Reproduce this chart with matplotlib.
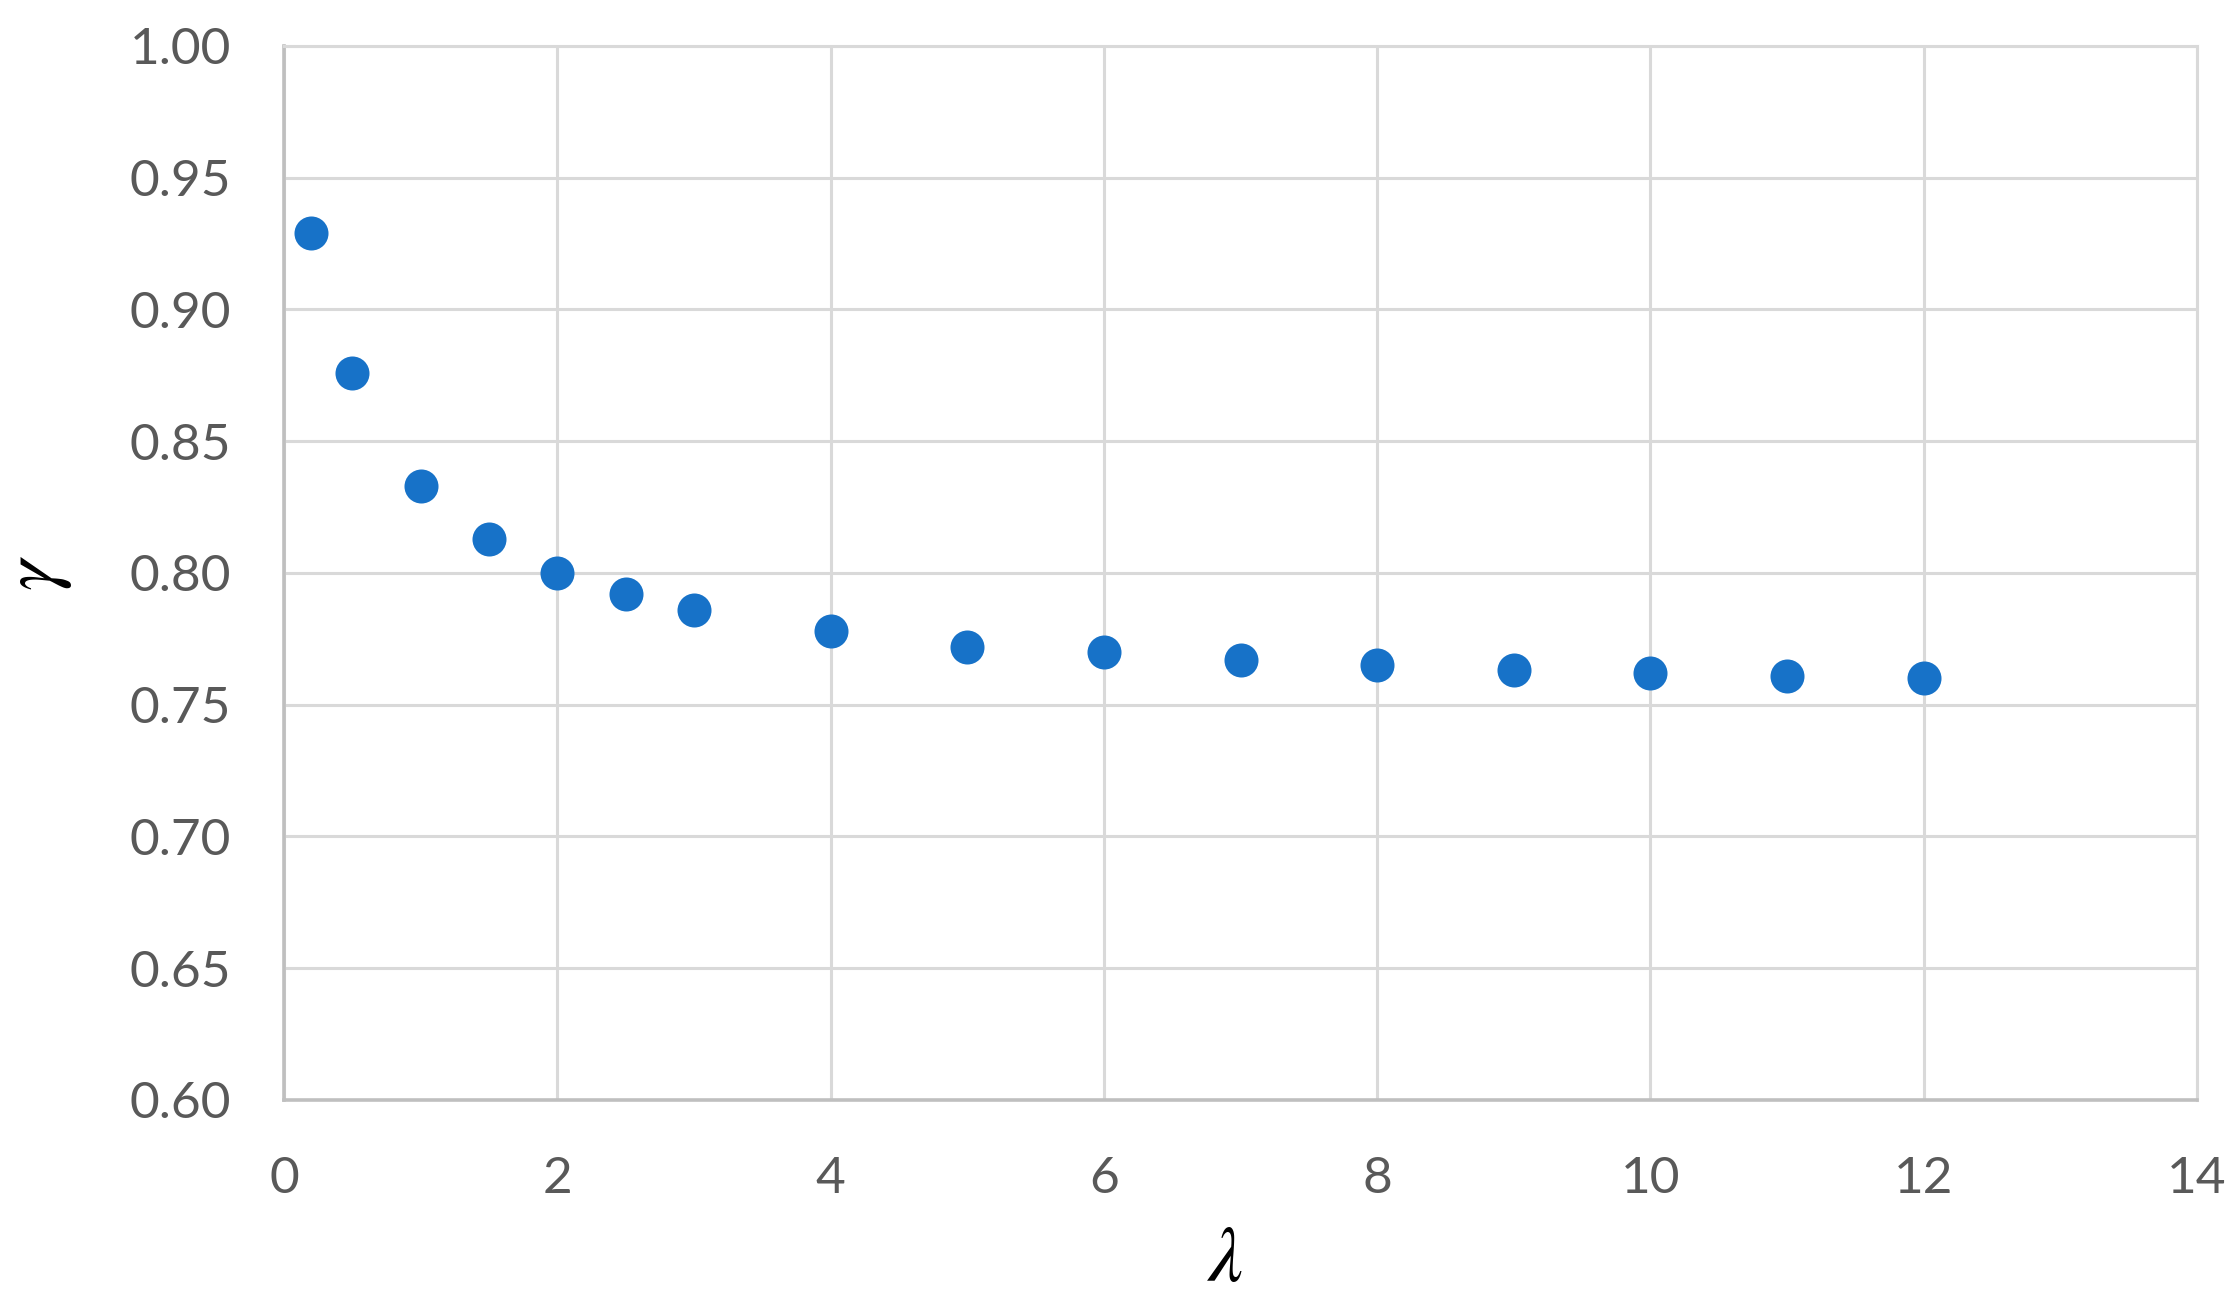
import matplotlib
matplotlib.use("Agg")
import matplotlib.pyplot as plt

# data
lam = [0.2, 0.5, 1.0, 1.5, 2.0, 2.5, 3.0, 4, 5, 6, 7, 8, 9, 10, 11, 12]
gamma = [0.929, 0.876, 0.833, 0.813, 0.800, 0.792, 0.786, 0.778,
         0.772, 0.770, 0.767, 0.765, 0.763, 0.762, 0.761, 0.760]
xticks = [0, 2, 4, 6, 8, 10, 12, 14]
yticks = [0.60, 0.65, 0.70, 0.75, 0.80, 0.85, 0.90, 0.95, 1.00]

plt.rcParams['font.family'] = ['Lato', 'DejaVu Sans']
plt.rcParams['mathtext.fontset'] = 'stix'

fig = plt.figure(figsize=(22.4, 12.99), dpi=100)
ax = fig.add_axes([0.1268, 0.1532, 0.8540, 0.8114])

ax.scatter(lam, gamma, s=600, color='#1772C8', zorder=3, linewidths=0)

ax.set_xlim(0, 14)
ax.set_ylim(0.60, 1.00)
ax.set_xticks(xticks)
ax.set_yticks(yticks)
ax.set_xticklabels([str(v) for v in xticks])
ax.set_yticklabels(['%.2f' % v for v in yticks])

# grid and frame
ax.grid(True, color='#D9D9D9', linewidth=2.2, zorder=0)
ax.set_axisbelow(True)
for side in ['top', 'right']:
    ax.spines[side].set_color('#D9D9D9')
    ax.spines[side].set_linewidth(2.2)
for side in ['left', 'bottom']:
    ax.spines[side].set_color('#BFBFBF')
    ax.spines[side].set_linewidth(2.6)

ax.tick_params(axis='both', length=0, labelsize=37, labelcolor='#595959')
ax.tick_params(axis='y', pad=38)
ax.tick_params(axis='x', pad=40)

ax.set_xlabel(r'$\lambda$', fontsize=56)
ax.xaxis.set_label_coords(0.492, -0.118)
ax.set_ylabel(r'$\gamma$', fontsize=56, labelpad=40)

fig.savefig('out.png', dpi=100)
